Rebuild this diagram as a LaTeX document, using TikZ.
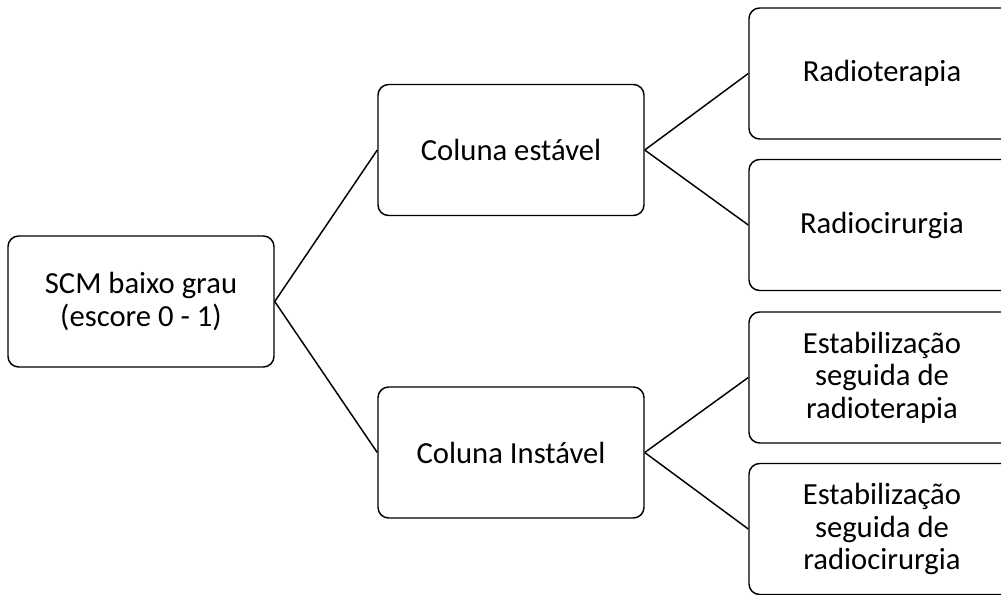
\documentclass[tikz,border=0pt]{standalone}
\usepackage{fontspec}
\setmainfont{Carlito}
\begin{document}
\begin{tikzpicture}[x=0.75pt,y=-0.75pt,
  box/.style={draw=black,line width=1.1pt,rounded corners=8pt,fill=white,
    minimum width=199.5pt,minimum height=98.25pt,inner sep=0pt,align=center,
    font=\fontsize{23}{24.5}\selectfont},
  link/.style={draw=black,line width=1.1pt}]
\useasboundingbox (0,0) rectangle (1001,594);
\node[box] (root) at (141,301.5) {SCM baixo grau\\(escore 0 - 1)};
\node[box] (est) at (511,150) {Coluna estável};
\node[box] (inst) at (511,452.5) {Coluna Instável};
\node[box] (r1) at (882,73.5) {Radioterapia};
\node[box] (r2) at (882,225) {Radiocirurgia};
\node[box] (r3) at (882,377.5) {Estabilização\\seguida de\\radioterapia};
\node[box] (r4) at (882,529) {Estabilização\\seguida de\\radiocirurgia};
\draw[link] (root.east) -- (est.west);
\draw[link] (root.east) -- (inst.west);
\draw[link] (est.east) -- (r1.west);
\draw[link] (est.east) -- (r2.west);
\draw[link] (inst.east) -- (r3.west);
\draw[link] (inst.east) -- (r4.west);
\end{tikzpicture}
\end{document}
